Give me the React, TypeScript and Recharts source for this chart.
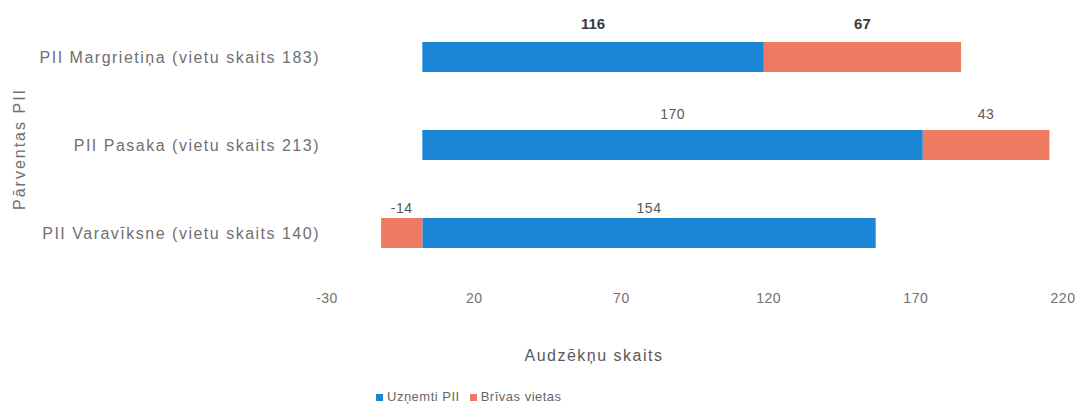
import React from 'react';
import { BarChart, Bar, XAxis, YAxis, Legend, LabelList } from 'recharts';

const categories = [
  'PII Margrietiņa (vietu skaits 183)',
  'PII Pasaka (vietu skaits 213)',
  'PII Varavīksne (vietu skaits 140)',
];
const uznemti = [116, 170, 154];
const brivas = [67, 43, -14];
const xTicks = [-30, 20, 70, 120, 170, 220];

const data = categories.map((c, i) => ({ name: c, uznemti: uznemti[i], brivas: brivas[i] }));

const FONT = '"Liberation Sans", Arial, sans-serif';
const labelLift = [13, 11, 5];
const legendOrder: Record<string, number> = { uznemti: 0, brivas: 1 };

const makeLabel = (key: string) => (props: any) => {
  const { x, y, width, value, index } = props;
  const bold = index === 0;
  const cx = Number(x) + Number(width) / 2;
  return (
    <text
      key={key + index}
      x={cx}
      y={Number(y) - labelLift[index]}
      textAnchor="middle"
      fontFamily={FONT}
      fontSize={bold ? 15 : 14}
      fontWeight={bold ? 'bold' : 'normal'}
      fill={bold ? '#3a3a3a' : '#595959'}
      letterSpacing={bold ? 0 : 0.5}
    >
      {value}
    </text>
  );
};

export default function App() {
  return (
    <div style={{ width: 1079, height: 400, background: '#fff', position: 'relative' }}>
      <BarChart
        width={1079}
        height={400}
        data={data}
        layout="vertical"
        stackOffset="sign"
        barSize={30}
        margin={{ top: 5, right: 17, left: 0, bottom: 0 }}
      >
        <XAxis
          type="number"
          domain={[-30, 220]}
          ticks={xTicks}
          axisLine={false}
          tickLine={false}
          tickSize={0}
          tickMargin={16}
          height={101}
          tick={{ fill: '#707070', fontSize: 14, fontFamily: FONT, dx: -7, letterSpacing: 0.5 }}
          label={{
            content: (p: any) => {
              const vb = p.viewBox || {};
              return (
                <text
                  x={vb.x + 260}
                  y={vb.y + 78}
                  textAnchor="middle"
                  dominantBaseline="central"
                  fontFamily={FONT}
                  fontSize={16}
                  letterSpacing={1.5}
                  fill="#595959"
                >
                  Audzēkņu  skaits
                </text>
              );
            },
          }}
        />
        <YAxis
          type="category"
          dataKey="name"
          width={326}
          axisLine={false}
          tickLine={false}
          tickSize={0}
          tickMargin={14}
          tick={{ fill: '#707070', fontSize: 16, fontFamily: FONT, letterSpacing: 1.5 }}
          label={{
            content: (p: any) => {
              const vb = p.viewBox || {};
              const cy = vb.y + vb.height / 2 + 4;
              return (
                <text
                  x={11}
                  y={cy}
                  transform={`rotate(-90, 11, ${cy})`}
                  textAnchor="middle"
                  dominantBaseline="central"
                  fontFamily={FONT}
                  fontSize={16}
                  letterSpacing={2}
                  fill="#707070"
                >
                  Pārventas PII
                </text>
              );
            },
          }}
        />
        <Legend
          verticalAlign="bottom"
          align="left"
          height={30}
          iconType="square"
          iconSize={7}
          itemSorter={(item: any) => legendOrder[item.dataKey] ?? 0}
          wrapperStyle={{ left: 368, top: 381, width: 230, fontFamily: FONT, fontSize: 13, letterSpacing: 0.5 }}
          formatter={(v: any) => <span style={{ color: '#666' }}>{v}</span>}
        />
        <Bar dataKey="uznemti" name="Uzņemti PII" stackId="a" fill="#1c86d6" isAnimationActive={false}>
          <LabelList dataKey="uznemti" content={makeLabel('u')} />
        </Bar>
        <Bar dataKey="brivas" name="Brīvas vietas" stackId="a" fill="#ee7b61" isAnimationActive={false}>
          <LabelList dataKey="brivas" content={makeLabel('b')} />
        </Bar>
      </BarChart>
    </div>
  );
}
